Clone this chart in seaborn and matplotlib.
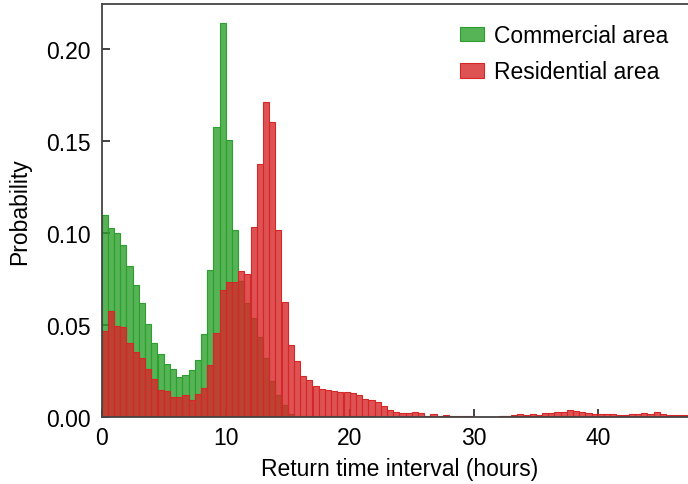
import numpy as np
import pandas as pd
import seaborn as sns
import matplotlib.pyplot as plt

# return time histograms, 0.5 h bins starting at 0 (density)
bin_width = 0.5
commercial = [
    0.1100, 0.1030, 0.1000, 0.0935, 0.0820, 0.0720, 0.0620, 0.0505, 0.0400, 0.0340,
    0.0290, 0.0260, 0.0220, 0.0230, 0.0255, 0.0310, 0.0450, 0.0800, 0.1576, 0.2141,
    0.1505, 0.1016, 0.0740, 0.0620, 0.0540, 0.0435, 0.0320, 0.0196, 0.0120, 0.0065,
    0.0016, 0.0005, 0.0004, 0.0004, 0.0004, 0.0004, 0.0004, 0.0003, 0.0003, 0.0003,
    0.0003, 0.0003, 0.0003, 0.0003, 0.0002, 0.0002, 0.0002, 0.0002, 0.0002, 0.0002,
    0.0002, 0.0002, 0.0001, 0.0002, 0.0001, 0.0001, 0.0001, 0.0001, 0.0001, 0.0001,
    0.0000, 0.0000, 0.0000, 0.0000, 0.0003, 0.0003, 0.0003, 0.0003, 0.0003, 0.0003,
    0.0003, 0.0003, 0.0003, 0.0003, 0.0003, 0.0003, 0.0002, 0.0002, 0.0002, 0.0002,
    0.0002, 0.0002, 0.0002, 0.0002, 0.0002, 0.0002, 0.0002, 0.0002, 0.0002, 0.0002,
    0.0002, 0.0002, 0.0002, 0.0002, 0.0002, 0.0002,
]
residential = [
    0.0467, 0.0576, 0.0495, 0.0489, 0.0402, 0.0353, 0.0321, 0.0261, 0.0207, 0.0147,
    0.0141, 0.0109, 0.0109, 0.0120, 0.0092, 0.0125, 0.0158, 0.0283, 0.0457, 0.0690,
    0.0734, 0.0734, 0.0793, 0.0777, 0.1033, 0.1375, 0.1712, 0.1603, 0.1016, 0.0625,
    0.0391, 0.0304, 0.0223, 0.0201, 0.0168, 0.0152, 0.0147, 0.0141, 0.0136, 0.0136,
    0.0130, 0.0120, 0.0098, 0.0092, 0.0082, 0.0060, 0.0038, 0.0027, 0.0022, 0.0022,
    0.0027, 0.0022, 0.0005, 0.0016, 0.0005, 0.0011, 0.0005, 0.0005, 0.0005, 0.0004,
    0.0000, 0.0000, 0.0000, 0.0000, 0.0005, 0.0005, 0.0011, 0.0016, 0.0011, 0.0016,
    0.0011, 0.0022, 0.0022, 0.0027, 0.0027, 0.0038, 0.0033, 0.0027, 0.0022, 0.0019,
    0.0016, 0.0016, 0.0016, 0.0011, 0.0011, 0.0016, 0.0016, 0.0022, 0.0016, 0.0027,
    0.0016, 0.0011, 0.0011, 0.0011, 0.0011, 0.0011,
]
labels = ['Commercial area', 'Residential area']
x_ticks = [0, 10, 20, 30, 40]
y_ticks = [0.00, 0.05, 0.10, 0.15, 0.20]

n = len(commercial)
df = pd.DataFrame({
    'center': np.arange(n) * bin_width + bin_width / 2,
    'commercial': commercial,
    'residential': residential,
})

sns.set_style('ticks')
plt.rcParams['font.family'] = ['Liberation Sans', 'DejaVu Sans']
plt.rcParams['text.color'] = 'black'
plt.rcParams['axes.labelcolor'] = 'black'
fs = 16.5
plt.rcParams['font.size'] = fs

fig = plt.figure(figsize=(6.88, 4.85), dpi=100)
ax = fig.add_axes([101.7 / 688, 67 / 485, 595.2 / 688, 413 / 485])

green = '#2ca02c'
red = '#d62728'
hist_kw = dict(x='center', binwidth=bin_width, binrange=(0, n * bin_width),
               stat='count', alpha=0.8, linewidth=0.8, ax=ax)
sns.histplot(data=df, weights='commercial', color=green, edgecolor=green,
             label=labels[0], **hist_kw)
sns.histplot(data=df, weights='residential', color=red, edgecolor=red,
             label=labels[1], **hist_kw)

ax.set_xlim(0, 48)
ax.set_ylim(0, 0.2245)
ax.set_xticks(x_ticks)
ax.set_yticks(y_ticks)
ax.set_yticklabels([f'{v:.2f}' for v in y_ticks])
ax.set_xlabel('Return time interval (hours)', fontsize=fs, labelpad=5.5)
ax.set_ylabel('Probability', fontsize=fs, labelpad=11)
ax.tick_params(direction='in', length=6, width=1.2, labelsize=fs, colors='#222222',
               labelcolor='black', top=False, right=False)
ax.tick_params(axis='x', pad=6.5)
ax.tick_params(axis='y', pad=8)
for s in ax.spines.values():
    s.set_color('#444444')
    s.set_linewidth(1.3)

ax.legend(loc='upper right', bbox_to_anchor=(684 / 688, 1 - 9 / 485),
          bbox_transform=fig.transFigure, frameon=False, fontsize=fs,
          handlelength=1.05, handleheight=0.61, handletextpad=0.44,
          labelspacing=0.58, borderpad=0.2)

fig.savefig('out.png', dpi=100)
